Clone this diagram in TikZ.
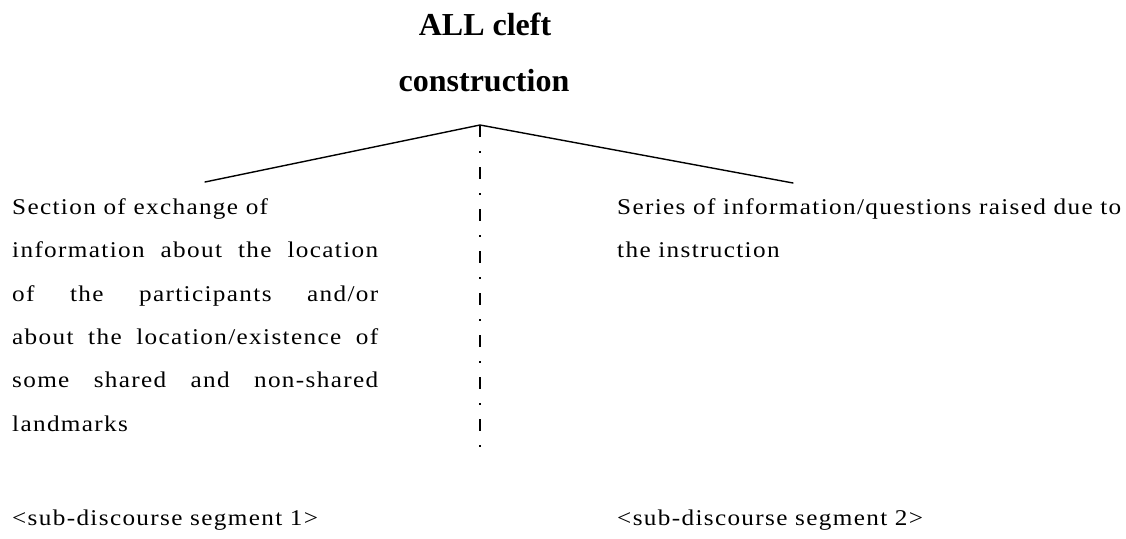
\documentclass[tikz,border=0pt]{standalone}
\usepackage{fontspec}
\setmainfont{Liberation Serif}
\newfontfamily\bodyfont[FakeStretch=1.12,LetterSpace=6]{Liberation Serif}
\begin{document}
\begin{tikzpicture}[x=1pt,y=-1pt,
  titletext/.style={font=\fontsize{32}{36}\selectfont\bfseries, inner sep=0pt, anchor=base},
  bodytext/.style={font=\bodyfont\fontsize{22.5}{26}\selectfont, inner sep=0pt, anchor=base west},
  branch/.style={line width=1.4pt, line cap=round},
  divider/.style={line width=2.2pt, dash pattern=on 12pt off 14pt on 2pt off 14pt}]
\useasboundingbox (0,0) rectangle (1126,538);

% heading
\node[titletext] (title1) at (485,35) {ALL cleft};
\node[titletext] (title2) at (484,91) {construction};

% tree branches and the dividing line
\coordinate (apex) at (480,125);
\coordinate (leftend) at (205,182);
\coordinate (rightend) at (793,183);
\coordinate (divend) at (480,450);
\draw[branch] (leftend) -- (apex) -- (rightend);
\draw[divider] (apex) -- (divend);

% left segment description (justified block)
\newcommand{\jline}[1]{\makebox[366pt][s]{#1}}
\node[bodytext] (l1) at (12,214) {Section of exchange of};
\node[bodytext] (l2) at (12,257.5) {\jline{information about the location}};
\node[bodytext] (l3) at (12,301) {\jline{of the participants and/or}};
\node[bodytext] (l4) at (12,344) {\jline{about the location/existence of}};
\node[bodytext] (l5) at (12,387.5) {\jline{some shared and non-shared}};
\node[bodytext] (l6) at (12,431) {landmarks};

% right segment description
\node[bodytext] (r1) at (617,214) {Series of information/questions raised due to};
\node[bodytext] (r2) at (617,257.5) {the instruction};

% segment labels
\node[bodytext] (seg1) at (12,525) {<sub-discourse segment 1>};
\node[bodytext] (seg2) at (617,525) {<sub-discourse segment 2>};
\end{tikzpicture}
\end{document}
